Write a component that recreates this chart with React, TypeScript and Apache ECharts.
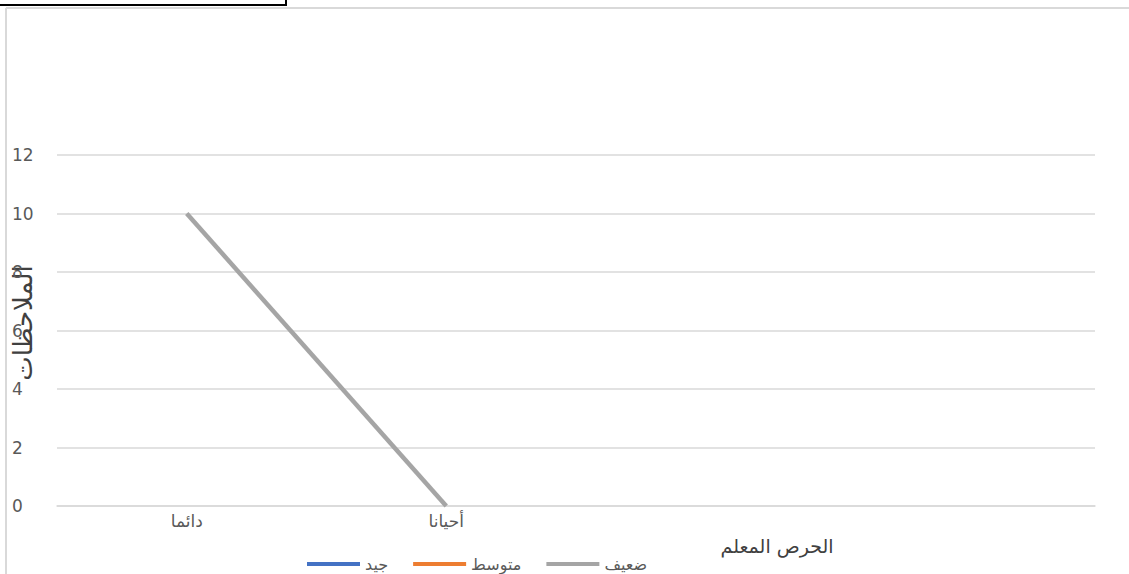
import React, { useEffect, useRef } from "react";
import * as echarts from "echarts";

const categories = ["دائما", "أحيانا", "", ""];
const seriesNames = ["جيد", "متوسط", "ضعيف"];
const goodValues: (number | null)[] = [null, null, null, null];
const mediumValues: (number | null)[] = [null, null, null, null];
const weakValues: (number | null)[] = [10, 0, null, null];
const yTicks = { min: 0, max: 12, interval: 2 };
const yAxisTitle = "الملاحظات";
const xAxisTitle = "الحرص المعلم";

export default function App() {
  const ref = useRef<HTMLDivElement>(null);
  useEffect(() => {
    if (!ref.current) return;
    const chart = echarts.init(ref.current, null, { renderer: "svg" });
    const font = "'DejaVu Sans', sans-serif";
    chart.setOption({
      animation: false,
      backgroundColor: "#ffffff",
      textStyle: { fontFamily: font },
      grid: {
        left: 57,
        right: 34,
        top: 155,
        bottom: 68,
        containLabel: false,
        outerBoundsMode: "none",
      },
      legend: {
        left: 302,
        top: 551,
        icon: "rect",
        itemWidth: 53,
        itemHeight: 4,
        itemGap: 25,
        textStyle: { fontSize: 16, color: "#595959", fontFamily: font },
        data: seriesNames,
      },
      xAxis: {
        type: "category",
        data: categories,
        boundaryGap: true,
        axisLine: { show: true, lineStyle: { color: "#d9d9d9", width: 1.5 } },
        axisTick: { show: false },
        axisLabel: { color: "#595959", fontSize: 17, margin: 6, fontFamily: font },
      },
      yAxis: {
        type: "value",
        min: yTicks.min,
        max: yTicks.max,
        interval: yTicks.interval,
        axisLine: { show: false },
        axisTick: { show: false },
        axisLabel: { color: "#595959", fontSize: 17, align: "left", margin: 45, fontFamily: font },
        splitLine: { lineStyle: { color: "#d9d9d9", width: 1.5 } },
      },
      series: [
        {
          name: seriesNames[0],
          type: "line",
          data: goodValues,
          showSymbol: false,
          itemStyle: { color: "#4472C4" },
          lineStyle: { color: "#4472C4", width: 4.5 },
        },
        {
          name: seriesNames[1],
          type: "line",
          data: mediumValues,
          showSymbol: false,
          itemStyle: { color: "#ED7D31" },
          lineStyle: { color: "#ED7D31", width: 4.5 },
        },
        {
          name: seriesNames[2],
          type: "line",
          data: weakValues,
          showSymbol: false,
          itemStyle: { color: "#A5A5A5" },
          lineStyle: { color: "#A5A5A5", width: 4.5 },
        },
      ],
      graphic: [
        {
          type: "line",
          shape: { x1: 6, y1: 8, x2: 1129, y2: 8 },
          style: { stroke: "#d9d9d9", lineWidth: 2 },
          silent: true,
        },
        {
          type: "line",
          shape: { x1: 6, y1: 8, x2: 6, y2: 574 },
          style: { stroke: "#d9d9d9", lineWidth: 2 },
          silent: true,
        },
        {
          type: "rect",
          shape: { x: -1, y: -3, width: 287, height: 8 },
          style: { fill: "#ffffff", stroke: "#000000", lineWidth: 2 },
          silent: true,
        },
        {
          type: "text",
          x: 23,
          y: 323,
          rotation: Math.PI / 2,
          style: {
            text: yAxisTitle,
            fontSize: 26,
            fill: "#404040",
            fontFamily: font,
            align: "center",
            verticalAlign: "middle",
          },
          silent: true,
        },
        {
          type: "text",
          x: 777,
          y: 546,
          style: {
            text: xAxisTitle,
            fontSize: 19,
            fill: "#404040",
            fontFamily: font,
            align: "center",
            verticalAlign: "middle",
          },
          silent: true,
        },
      ],
    });
    return () => chart.dispose();
  }, []);
  return (
    <div
      ref={ref}
      style={{ position: "fixed", left: 0, top: 0, width: 1129, height: 574 }}
    />
  );
}
